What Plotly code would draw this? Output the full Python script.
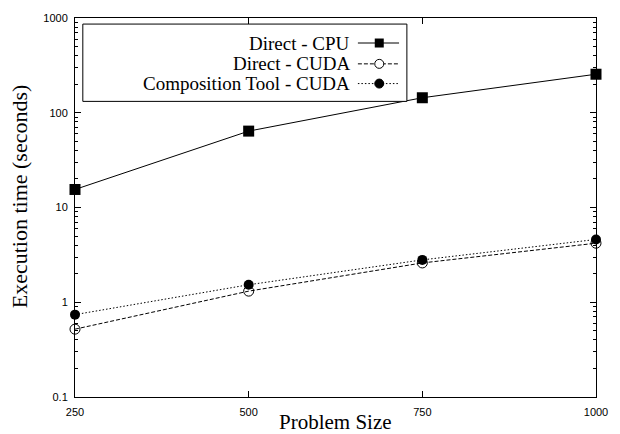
import plotly.graph_objects as go

sizes = [250, 500, 750, 1000]
direct_cpu = [15.5, 64, 144, 255]
direct_cuda = [0.52, 1.31, 2.6, 4.2]
comp_cuda = [0.74, 1.53, 2.8, 4.6]
series_names = ["Direct - CPU", "Direct - CUDA", "Composition Tool - CUDA"]
y_ticks = [0.1, 1, 10, 100, 1000]
y_tick_text = ["0.1", "1", "10", "100", "1000"]

DASH = "4px,2px"
DOT = "1.5px,2px"

fig = go.Figure()
fig.add_trace(go.Scatter(x=sizes, y=direct_cpu, mode="lines+markers", name=series_names[0],
                         line=dict(color="black", width=1), cliponaxis=False,
                         marker=dict(symbol="square", size=11, color="black")))
fig.add_trace(go.Scatter(x=sizes, y=direct_cuda, mode="lines+markers", name=series_names[1],
                         line=dict(color="black", width=1, dash=DASH), cliponaxis=False,
                         marker=dict(symbol="circle-open", size=10, color="black", line=dict(width=1))))
fig.add_trace(go.Scatter(x=sizes, y=comp_cuda, mode="lines+markers", name=series_names[2],
                         line=dict(color="black", width=1, dash=DOT), cliponaxis=False,
                         marker=dict(symbol="circle", size=10, color="black")))

# manual legend (text left of sample, gnuplot style)
box = dict(x0=0.015, x1=0.637, y0=0.780, y1=0.984)
rows = [0.934, 0.879, 0.827]
text_x, line_x0, line_x1, mark_x = 0.531, 0.543, 0.622, 0.584
shapes = [dict(type="rect", xref="paper", yref="paper", x0=box["x0"], x1=box["x1"], y0=box["y0"], y1=box["y1"],
               line=dict(color="black", width=1), fillcolor="white", layer="above")]
annotations = []
dashes = ["solid", DASH, DOT]
for i, (name, ry) in enumerate(zip(series_names, rows)):
    annotations.append(dict(text=name, xref="paper", yref="paper", x=text_x, y=ry, xanchor="right",
                            yanchor="middle", showarrow=False,
                            font=dict(family="Liberation Serif", size=19, color="black")))
    shapes.append(dict(type="line", xref="paper", yref="paper", x0=line_x0, x1=line_x1, y0=ry, y1=ry,
                       line=dict(color="black", width=1, dash=dashes[i]), layer="above"))
    if i == 0:
        shapes.append(dict(type="rect", xref="paper", yref="paper", xsizemode="pixel", ysizemode="pixel",
                           xanchor=mark_x, yanchor=ry, x0=-4.5, x1=4.5, y0=-4.5, y1=4.5,
                           fillcolor="black", line=dict(color="black", width=0), layer="above"))
    else:
        shapes.append(dict(type="circle", xref="paper", yref="paper", xsizemode="pixel", ysizemode="pixel",
                           xanchor=mark_x, yanchor=ry, x0=-4.5, x1=4.5, y0=-4.5, y1=4.5,
                           fillcolor="black" if i == 2 else "white",
                           line=dict(color="black", width=1), layer="above"))

# axis titles
annotations.append(dict(text="Problem Size", xref="paper", yref="paper", x=0.5, y=-0.0656,
                        xanchor="center", yanchor="middle", showarrow=False,
                        font=dict(family="Liberation Serif", size=21, color="black")))
annotations.append(dict(text="Execution time (seconds)", xref="paper", yref="paper", x=-0.106, y=0.529,
                        xanchor="center", yanchor="middle", showarrow=False, textangle=-90,
                        font=dict(family="Liberation Serif", size=22, color="black")))

fig.update_layout(
    width=620, height=434,
    margin=dict(l=75, r=16, t=16, b=37),
    paper_bgcolor="white", plot_bgcolor="white",
    showlegend=False,
    shapes=shapes, annotations=annotations,
    xaxis=dict(range=[250, 1000], tickvals=sizes, ticktext=[str(s) for s in sizes],
               ticks="inside", ticklen=6, tickcolor="black", showgrid=False, zeroline=False,
               showline=True, linecolor="black", linewidth=1, mirror="allticks",
               ticklabeloverflow="allow", ticklabelstandoff=5,
               tickfont=dict(family="Liberation Sans", size=11, color="black")),
    yaxis=dict(type="log", range=[-1, 3], tickvals=y_ticks, ticktext=y_tick_text,
               ticks="inside", ticklen=6, tickcolor="black", showgrid=False, zeroline=False,
               showline=True, linecolor="black", linewidth=1, mirror="allticks",
               ticklabelstandoff=4,
               minor=dict(ticks="inside", ticklen=3, tickcolor="black", showgrid=False, dtick="D1"),
               tickfont=dict(family="Liberation Sans", size=11, color="black")),
)
fig.write_html("out.html")
